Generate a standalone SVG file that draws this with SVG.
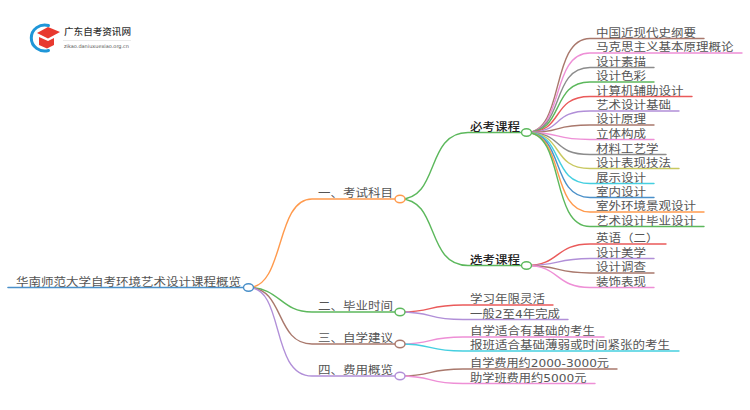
<svg xmlns="http://www.w3.org/2000/svg" width="750" height="410" viewBox="0 0 750 410">
<style>
text{font-family:"DejaVu Sans","Noto Sans CJK SC",sans-serif;font-size:11px;fill:#555}
.b{fill:#222;font-weight:500}
path{fill:none;stroke-width:1.4;stroke-linecap:round}
.n{fill:#fff;stroke-width:1.4}
.or{stroke:#ff9a4d}.gr{stroke:#5cb85c}.br{stroke:#a9786c}.pu{stroke:#b18fd8}.pk{stroke:#ee8fd6}.gy{stroke:#8c8c8c}.re{stroke:#ea5a5a}.bl{stroke:#4a90c9}.ol{stroke:#c8c860}.cy{stroke:#45cfe0}
</style>
<g id="logo">
<path d="M48.500 25.500A13.500 13 0 1 0 48.500 50.500" style="stroke:#1f96d8;stroke-width:3"/>
<polygon points="37,33 48,27 60,32 48,38.500" fill="#e8392f"/>
<polygon points="39,37 48,41 54,38 54,45 47,48.500 39,45" fill="#e8392f"/>
<text x="64" y="35" textLength="67" lengthAdjust="spacingAndGlyphs" style="font-size:9px;fill:#333;font-weight:500">广东自考资讯网</text>
<rect x="63" y="40" width="68" height="0.600" fill="#ddd"/>
<text x="64" y="48" textLength="65" lengthAdjust="spacingAndGlyphs" style="font-size:5px">zikao.daniuxuexiao.org.cn</text>
</g>
<g id="connectors">
<path class="bl" style="stroke-width:1.600" d="M8 287.500H244"/>
<path class="or" d="M248.500 287.500C285 287.500 275 199 312 199H395"/>
<path class="gr" d="M248.500 287.500C280 287.500 280 312 312 312H395"/>
<path class="br" d="M248.500 287.500C285 287.500 275 344 312 344H395"/>
<path class="pu" d="M248.500 287.500C285 287.500 270 376 312 376H395"/>
<path class="gr" d="M400 199C440 199 425 132.500 468 132.500H522"/>
<path class="gr" d="M400 199C440 199 425 265.500 468 265.500H522"/>
<path class="br" d="M526.500 132.500C565 132.500 550 38.500 590 38.500H704"/>
<path class="pk" d="M526.500 132.500C565 132.500 550 53 590 53H742"/>
<path class="gy" d="M526.500 132.500C565 132.500 550 67.500 590 67.500H654"/>
<path class="gr" d="M526.500 132.500C565 132.500 550 82 590 82H654"/>
<path class="re" d="M526.500 132.500C565 132.500 550 96.500 590 96.500H692"/>
<path class="pu" d="M526.500 132.500C565 132.500 550 111 590 111H679"/>
<path class="br" d="M526.500 132.500C565 132.500 550 125 590 125H654"/>
<path class="pk" d="M526.500 132.500C565 132.500 550 139.500 590 139.500H654"/>
<path class="gy" d="M526.500 132.500C565 132.500 550 154.500 590 154.500H666"/>
<path class="ol" d="M526.500 132.500C565 132.500 550 168.500 590 168.500H679"/>
<path class="cy" d="M526.500 132.500C565 132.500 550 183.500 590 183.500H654"/>
<path class="bl" d="M526.500 132.500C565 132.500 550 197.500 590 197.500H654"/>
<path class="or" d="M526.500 132.500C565 132.500 550 212 590 212H704"/>
<path class="gr" d="M526.500 132.500C565 132.500 550 226.500 590 226.500H704"/>
<path class="re" d="M526.500 265.500C560 265.500 555 244 590 244H666"/>
<path class="pu" d="M526.500 265.500C560 265.500 555 258.500 590 258.500H654"/>
<path class="br" d="M526.500 265.500C560 265.500 555 273 590 273H654"/>
<path class="pk" d="M526.500 265.500C560 265.500 555 287.500 590 287.500H654"/>
<path class="re" d="M400 312C435 312 425 305 463 305H553"/>
<path class="pu" d="M400 312C435 312 425 319.500 463 319.500H568"/>
<path class="pk" d="M400 344C435 344 425 337 463 337H604"/>
<path class="cy" d="M400 344C435 344 425 351 463 351H679"/>
<path class="br" d="M400 376C435 376 425 369 463 369H617"/>
<path class="pk" d="M400 376C435 376 425 383.500 463 383.500H595"/>
</g>
<g id="root"><text x="16" y="285.500" textLength="225" lengthAdjust="spacingAndGlyphs">华南师范大学自考环境艺术设计课程概览</text><ellipse class="n bl" cx="248.500" cy="287.500" rx="5" ry="3.700"/></g>
<g id="n1"><text x="318" y="197" textLength="75" lengthAdjust="spacingAndGlyphs">一、考试科目</text><ellipse class="n or" cx="400" cy="199" rx="5" ry="3.700"/></g>
<g id="n2"><text x="318" y="310" textLength="75" lengthAdjust="spacingAndGlyphs">二、毕业时间</text><ellipse class="n gr" cx="400" cy="312" rx="5" ry="3.700"/></g>
<g id="n3"><text x="318" y="342" textLength="75" lengthAdjust="spacingAndGlyphs">三、自学建议</text><ellipse class="n br" cx="400" cy="344" rx="5" ry="3.700"/></g>
<g id="n4"><text x="318" y="374" textLength="75" lengthAdjust="spacingAndGlyphs">四、费用概览</text><ellipse class="n pu" cx="400" cy="376" rx="5" ry="3.700"/></g>
<g id="n5"><text class="b" x="470" y="130.500" textLength="50" lengthAdjust="spacingAndGlyphs">必考课程</text><ellipse class="n gr" cx="526.500" cy="132.500" rx="5" ry="3.700"/></g>
<g id="n6"><text class="b" x="470" y="263.500" textLength="50" lengthAdjust="spacingAndGlyphs">选考课程</text><ellipse class="n gr" cx="526.500" cy="265.500" rx="5" ry="3.700"/></g>
<g id="leaves">
<text x="596" y="36.500" textLength="100" lengthAdjust="spacingAndGlyphs">中国近现代史纲要</text>
<text x="596" y="51" textLength="137.500" lengthAdjust="spacingAndGlyphs">马克思主义基本原理概论</text>
<text x="596" y="65.500" textLength="50" lengthAdjust="spacingAndGlyphs">设计素描</text>
<text x="596" y="80" textLength="50" lengthAdjust="spacingAndGlyphs">设计色彩</text>
<text x="596" y="94.500" textLength="87.500" lengthAdjust="spacingAndGlyphs">计算机辅助设计</text>
<text x="596" y="109" textLength="75" lengthAdjust="spacingAndGlyphs">艺术设计基础</text>
<text x="596" y="123" textLength="50" lengthAdjust="spacingAndGlyphs">设计原理</text>
<text x="596" y="137.500" textLength="50" lengthAdjust="spacingAndGlyphs">立体构成</text>
<text x="596" y="152.500" textLength="62.500" lengthAdjust="spacingAndGlyphs">材料工艺学</text>
<text x="596" y="166.500" textLength="75" lengthAdjust="spacingAndGlyphs">设计表现技法</text>
<text x="596" y="181.500" textLength="50" lengthAdjust="spacingAndGlyphs">展示设计</text>
<text x="596" y="195.500" textLength="50" lengthAdjust="spacingAndGlyphs">室内设计</text>
<text x="596" y="210" textLength="100" lengthAdjust="spacingAndGlyphs">室外环境景观设计</text>
<text x="596" y="224.500" textLength="100" lengthAdjust="spacingAndGlyphs">艺术设计毕业设计</text>
<text x="596" y="242" textLength="62.500" lengthAdjust="spacingAndGlyphs">英语（二）</text>
<text x="596" y="256.500" textLength="50" lengthAdjust="spacingAndGlyphs">设计美学</text>
<text x="596" y="271" textLength="50" lengthAdjust="spacingAndGlyphs">设计调查</text>
<text x="596" y="285.500" textLength="50" lengthAdjust="spacingAndGlyphs">装饰表现</text>
<text x="470" y="303" textLength="75" lengthAdjust="spacingAndGlyphs">学习年限灵活</text>
<text x="470" y="317.500" textLength="90" lengthAdjust="spacingAndGlyphs">一般2至4年完成</text>
<text x="470" y="335" textLength="125" lengthAdjust="spacingAndGlyphs">自学适合有基础的考生</text>
<text x="470" y="349" textLength="200" lengthAdjust="spacingAndGlyphs">报班适合基础薄弱或时间紧张的考生</text>
<text x="470" y="367" textLength="139" lengthAdjust="spacingAndGlyphs">自学费用约2000-3000元</text>
<text x="470" y="381.500" textLength="116.500" lengthAdjust="spacingAndGlyphs">助学班费用约5000元</text>
</g>
</svg>
